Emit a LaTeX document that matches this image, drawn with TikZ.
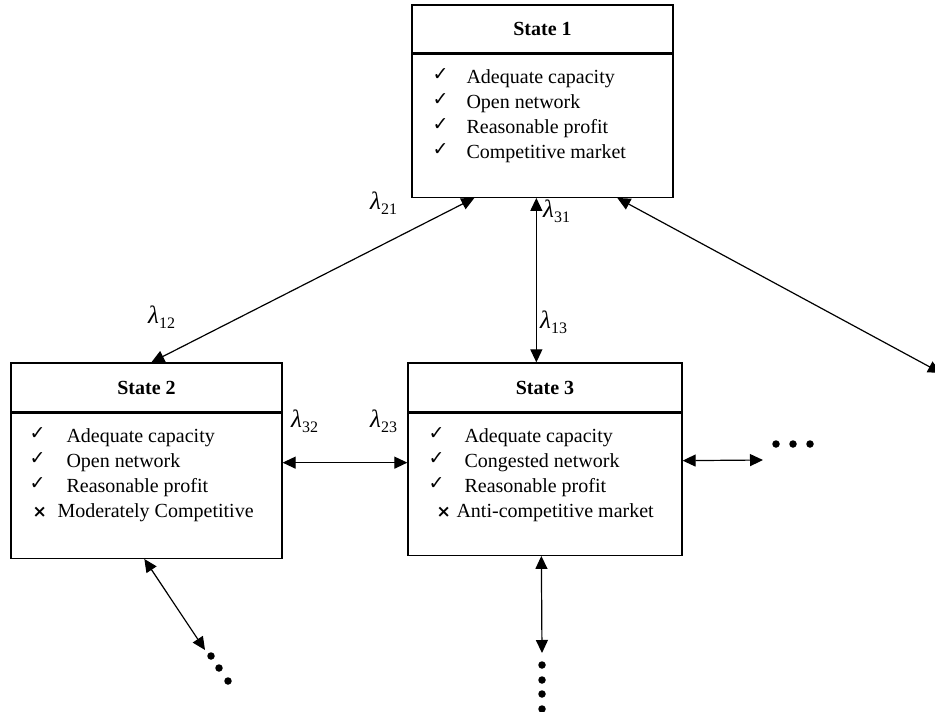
\documentclass[tikz,border=0pt]{standalone}
\usepackage{fontspec}
\setmainfont{Liberation Serif}
\newfontfamily\symfont{DejaVu Sans}
\usepackage{tikz}
\usetikzlibrary{arrows.meta,positioning,calc}

\newcommand{\ck}[1]{\makebox[#1pt][l]{\raisebox{3pt}{\symfont\fontsize{19}{19}\selectfont ✓}}}
\newcommand{\xx}[2]{\hspace{#1pt}\makebox[#2pt][l]{\symfont\bfseries\fontsize{17}{17}\selectfont ×}}
\newcommand{\lam}[1]{{\fontsize{25}{25}\selectfont\itshape λ}\raisebox{-5pt}{\fontsize{16}{16}\selectfont #1}}

\begin{document}
\begin{tikzpicture}[x=1pt, y=-1pt,
    hdbox/.style={rectangle, draw, line width=1.3pt, minimum height=48pt, inner sep=0pt, font=\fontsize{20}{24}\selectfont\bfseries},
    bodybox/.style={rectangle, draw, line width=1.3pt, inner sep=0pt},
    itemlist/.style={inner sep=0pt, anchor=base west, font=\fontsize{20}{25}\selectfont},
    arr/.style={{Triangle[length=13pt,width=12pt]}-{Triangle[length=13pt,width=12pt]}, line width=1.2pt},
    lamlabel/.style={inner sep=0pt, anchor=base west},
    dot/.style={circle, fill, inner sep=0pt, minimum size=7.5pt},
  ]
    \useasboundingbox (0,0) rectangle (935,712);

    % State 1
    \node[hdbox, minimum width=261pt] (s1) at (542.5,29) {State 1};
    \node[bodybox, minimum width=261pt, minimum height=143pt, below=0pt of s1] (s1b) {};
    \node[itemlist] (s1l) at ($(s1b.north west)+(21,30)$) {\begin{tabular}[t]{@{}l@{}}
      \ck{34}Adequate capacity\\
      \ck{34}Open network\\
      \ck{34}Reasonable profit\\
      \ck{34}Competitive market
    \end{tabular}};

    % State 2
    \node[hdbox, minimum width=271pt, minimum height=49pt] (s2) at (146.5,387.5) {State 2};
    \node[bodybox, minimum width=271pt, minimum height=145pt, below=0pt of s2] (s2b) {};
    \node[itemlist] (s2l) at ($(s2b.north west)+(19,30)$) {\begin{tabular}[t]{@{}l@{}}
      \ck{37}Adequate capacity\\
      \ck{37}Open network\\
      \ck{37}Reasonable profit\\
      \xx{3}{25}Moderately Competitive
    \end{tabular}};

    % State 3
    \node[hdbox, minimum width=274pt, minimum height=49pt] (s3) at (545,387.5) {State 3};
    \node[bodybox, minimum width=274pt, minimum height=142pt, below=0pt of s3] (s3b) {};
    \node[itemlist] (s3l) at ($(s3b.north west)+(21,30)$) {\begin{tabular}[t]{@{}l@{}}
      \ck{36}Adequate capacity\\
      \ck{36}Congested network\\
      \ck{36}Reasonable profit\\
      \xx{8}{20}Anti-competitive market
    \end{tabular}};

    % Open ends
    \coordinate (e1) at (941,373);
    \coordinate (e2) at (763,460);
    \coordinate (e3) at (205,650);
    \coordinate (e4) at (542,653);

    % Transitions
    \draw[arr] ($(s1b.south west)+(63,0)$) -- ($(s2.north west)+(141,0)$);
    \draw[arr] ($(s1b.south west)+(125,0)$) -- ($(s3.north west)+(129,0)$);
    \draw[arr] ($(s1b.south west)+(206,0)$) -- (e1);
    \draw[arr] ($(s2b.north east)+(0,50)$) -- ($(s3b.north west)+(0,50)$);
    \draw[arr] ($(s3b.north east)+(0,48)$) -- (e2);
    \draw[arr] ($(s2b.south west)+(134,0)$) -- (e3);
    \draw[arr] ($(s3b.south west)+(134,0)$) -- (e4);

    % Dots
    \foreach \x [count=\i] in {776,793,810} \node[dot] (r\i) at (\x,444) {};
    \foreach \x/\y [count=\i] in {211/656,219/668,228/681} \node[dot] (bl\i) at (\x,\y) {};
    \foreach \y [count=\i] in {665,680,694,709} \node[dot] (b\i) at (542,\y) {};

    % Rates
    \node[lamlabel] (l21) at (370,209) {\lam{21}};
    \node[lamlabel] (l31) at (543,217) {\lam{31}};
    \node[lamlabel] (l13) at (540,328) {\lam{13}};
    \node[lamlabel] (l12) at (148,323) {\lam{12}};
    \node[lamlabel] (l32) at (291,427) {\lam{32}};
    \node[lamlabel] (l23) at (370,427) {\lam{23}};

  \end{tikzpicture}
\end{document}
